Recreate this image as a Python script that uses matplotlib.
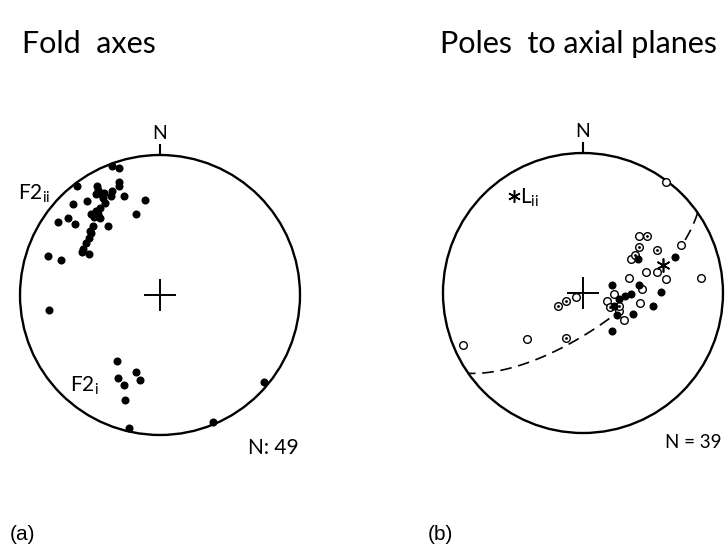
import numpy as np
import matplotlib.pyplot as plt

plt.rcParams['font.family'] = ['Lato', 'DejaVu Sans']
plt.rcParams['mathtext.fontset'] = 'custom'
plt.rcParams['mathtext.rm'] = 'Lato'

# positions on the equal-area net, in hundredths of the net radius (east, north)
# (a) fold axes
f2ii_east = [-34, -29, -59, -45, -29, -29, -44, -46, -42, -34, -35, -26, -11, -62,
             -52, -41, -39, -43, -49, -44, -43, -47, -17, -66, -73, -61, -48, -37,
             -49, -51, -53, -55, -56, -51, -80, -71, -79, -40, -46, -50]
f2ii_north = [92, 91, 78, 78, 81, 78, 75, 72, 72, 74, 71, 71, 68, 65,
              67, 69, 66, 62, 58, 58, 55, 56, 58, 55, 52, 51, 49, 49,
              44, 41, 37, 33, 31, 29, 28, 25, -11, 73, 60, 46]
f2i_east = [-31, -17, -30, -26, -14, -25, -22, 38, 74]
f2i_north = [-47, -55, -59, -64, -61, -75, -95, -91, -62]

# (b) poles to axial planes
open_east = [59, 84, 70, 40, 34, 53, 45, 33, 59, 42, -86, -40, -5, 22, 41, 26, 29, 17]
open_north = [79, 11, 34, 41, 24, 15, 15, 11, 10, 3, -37, -33, -3, -1, -7, -13, -19, -6]
dotted_east = [46, 40, 53, 37, -12, -18, -12, 19, 26]
dotted_north = [41, 33, 31, 27, -32, -9, -6, -10, -9]
solid_east = [39, 66, 21, 40, 56, 50, 24, 36, 21, 26, 30, 34, 22]
solid_north = [24, 26, 6, 6, 1, -9, -16, -15, -27, -4, -2, -1, -9]
star_east = [57]
star_north = [20]
lii_east = [-49]
lii_north = [69]

# girdle through the poles: dip direction / dip in degrees
girdle_dipdir = 145
girdle_dip = 69


def great_circle(dipdir, dip, rakes):
    """Lower-hemisphere equal-area trace of a plane, sampled by rake (deg)."""
    dd = np.radians(dipdir)
    d = np.radians(dip)
    st = dd - np.pi / 2
    s = np.array([np.sin(st), np.cos(st), 0.0])
    dv = np.array([np.sin(dd) * np.cos(d), np.cos(dd) * np.cos(d), np.sin(d)])
    r = np.radians(rakes)
    v = np.outer(np.cos(r), s) + np.outer(np.sin(r), dv)
    plunge = np.arcsin(np.clip(v[:, 2], -1, 1))
    trend = np.arctan2(v[:, 0], v[:, 1])
    rr = np.sqrt(2) * np.sin((np.pi / 2 - plunge) / 2)
    return rr * np.sin(trend), rr * np.cos(trend)


def draw_net(ax):
    ax.add_patch(plt.Circle((0, 0), 1, fill=False, lw=1.7, color='black'))
    ax.plot([0, 0], [1, 1.075], color='black', lw=1.5)
    ax.text(0, 1.09, 'N', ha='center', va='bottom', fontsize=14)
    ax.plot([-0.107, 0.107], [0, 0], color='black', lw=1.4)
    ax.plot([0, 0], [-0.107, 0.107], color='black', lw=1.4)
    ax.set_xlim(-1.1, 1.1)
    ax.set_ylim(-1.1, 1.1)
    ax.set_aspect('equal')
    ax.axis('off')


def pct(v):
    return np.array(v) / 100.0


fig = plt.figure(figsize=(7.25, 5.48), dpi=100)

ax1 = fig.add_axes([0.0083, 0.1807, 0.4248, 0.5620])
ax2 = fig.add_axes([0.5917, 0.1843, 0.4248, 0.5620])
for ax in (ax1, ax2):
    draw_net(ax)

# (a)
ax1.plot(pct(f2ii_east), pct(f2ii_north), 'o', color='black', ms=5.8, mew=0)
ax1.plot(pct(f2i_east), pct(f2i_north), 'o', color='black', ms=5.8, mew=0)
ax1.text(-0.78, 0.68, r'F2$_{\rm ii}$', ha='right', va='baseline', fontsize=15)
ax1.text(-0.64, -0.686, r'F2$_{\rm i}$', ha='left', va='baseline', fontsize=15)
ax1.text(0.81, -1.09, 'N: 49', ha='center', va='center', fontsize=15)

# (b)
rk1 = np.linspace(0, 25, 40)
rk2 = np.linspace(86, 180, 120)
for rk in (rk1, rk2):
    gx, gy = great_circle(girdle_dipdir, girdle_dip, rk)
    ax2.plot(gx, gy, color='black', lw=1.2, dashes=(7, 4))
ax2.plot(pct(open_east), pct(open_north), 'o', mfc='white', mec='black', ms=5.5, mew=1.0)
ax2.plot(pct(dotted_east), pct(dotted_north), 'o', mfc='white', mec='black', ms=5.5, mew=1.0)
ax2.plot(pct(dotted_east), pct(dotted_north), '.', color='black', ms=2)
ax2.plot(pct(solid_east), pct(solid_north), 'o', color='black', ms=5.8, mew=0)
ax2.plot(pct(star_east), pct(star_north), marker=(6, 2, 0), color='black', ms=10, mew=1.2, ls='none')
ax2.plot(pct(lii_east), pct(lii_north), marker=(6, 2, 0), color='black', ms=9, mew=1.1, ls='none')
ax2.text(-0.45, 0.64, r'L$_{\rm ii}$', ha='left', va='baseline', fontsize=15)
ax2.text(0.79, -1.07, 'N = 39', ha='center', va='center', fontsize=13.5)

fig.text(22 / 725, 1 - 44 / 548, 'Fold  axes', ha='left', va='center', fontsize=22)
fig.text(440 / 725, 1 - 44 / 548, 'Poles  to axial planes', ha='left', va='center', fontsize=22)
fig.text(10 / 725, 1 - 535 / 548, '(a)', ha='left', va='center', fontsize=15,
         family='Liberation Sans')
fig.text(428 / 725, 1 - 535 / 548, '(b)', ha='left', va='center', fontsize=15,
         family='Liberation Sans')

fig.savefig('out.png', dpi=100)
